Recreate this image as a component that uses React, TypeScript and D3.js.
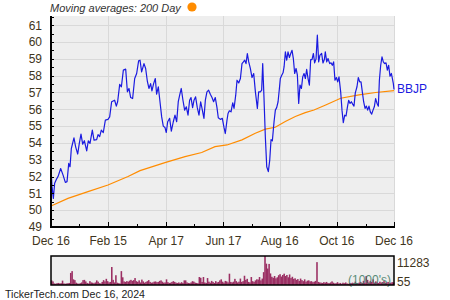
import React from "react";
import * as d3 from "d3";

// ---------- DATA ----------
const startDate = "2023-12-16";
const endDate = "2024-12-16";

const tickDates = ["2023-12-16", "2024-02-15", "2024-04-17", "2024-06-17", "2024-08-16", "2024-10-16", "2024-12-16"];
const tickLabels = ["Dec 16", "Feb 15", "Apr 17", "Jun 17", "Aug 16", "Oct 16", "Dec 16"];
const minorTickDates = ["2024-01-15", "2024-03-17", "2024-05-17", "2024-07-17", "2024-09-16", "2024-11-16"];

const yTicks = [49, 50, 51, 52, 53, 54, 55, 56, 57, 58, 59, 60, 61];

// price: days since start / closing price
const priceDays = [
  0, 1.1, 2.5, 3.9, 5.7, 7.5, 10.3, 12.8, 15.3, 17.1, 18.9, 20.3, 21.7, 24.5, 26.3, 28.5, 30.2, 32.0, 33.8, 35.6,
  38.1, 39.8, 41.6, 44.1, 45.9, 48.7, 50.2, 51.9, 53.7, 55.8, 58.0, 60.8, 62.6, 64.7, 67.9, 69.7, 71.1, 73.3, 75.1, 77.2,
  79.7, 81.5, 83.2, 85.0, 87.1, 89.3, 91.4, 93.5, 95.0, 96.7, 99.2, 101.0, 102.8, 104.5, 106.3, 107.7, 109.5, 111.3, 112.7, 114.5,
  116.3, 118.1, 119.8, 121.6, 123.0, 124.5, 126.6, 128.4, 130.5, 132.3, 134.1, 135.8, 137.3, 139.0, 140.8, 142.6, 144.4, 146.2, 147.9, 149.4,
  151.1, 152.6, 154.3, 156.1, 157.9, 159.7, 161.5, 163.2, 164.7, 166.4, 168.2, 170.0, 171.8, 173.5, 175.3, 177.1, 178.5, 180.7, 182.8, 184.6,
  186.0, 187.8, 188.9, 190.3, 192.1, 193.9, 195.3, 197.1, 198.5, 200.3, 202.1, 203.8, 205.3, 206.7, 208.1, 209.5, 211.0, 212.7, 214.5, 216.3,
  218.1, 220.2, 221.6, 223.4, 224.8, 225.9, 227.3, 228.7, 230.2, 231.9, 233.4, 234.8, 236.2, 238.0, 239.4, 240.8, 242.3, 243.7, 244.7, 246.2,
  247.6, 248.7, 250.1, 251.5, 252.9, 254.4, 255.8, 257.2, 258.6, 260.0, 261.5, 262.9, 264.3, 265.7, 267.2, 268.6, 270.0, 271.4, 272.8, 274.3,
  275.7, 277.1, 278.5, 280.0, 281.3, 282.8, 284.2, 285.6, 287.0, 288.8, 290.2, 291.7, 292.7, 294.2, 295.6, 297.4, 298.8, 300.2, 301.6, 303.0,
  304.5, 305.9, 307.3, 309.1, 310.5, 311.9, 313.4, 314.8, 316.2, 317.6, 319.1, 320.5, 321.9, 323.3, 324.7, 326.5, 327.9, 329.4, 330.8, 332.2,
  333.6, 335.1, 336.5, 337.9, 339.3, 340.7, 342.2, 343.6, 345.0, 346.4, 347.9, 349.3, 350.4, 351.8, 353.2, 354.6, 356.0, 357.5, 358.9, 360.3,
  361.7, 363.2, 364.6, 365.3, 366.0,
];
const priceValues = [
  52.49, 51.4, 50.7, 51.6, 51.83, 52.0, 52.48, 52.1, 51.65, 51.7, 52.78, 52.58, 53.67, 54.3, 53.77, 53.34, 53.97, 54.52, 53.93, 54.13,
  53.53, 54.13, 53.97, 54.76, 54.17, 54.2, 54.49, 54.37, 54.76, 54.62, 55.36, 55.4, 55.55, 56.45, 56.54, 56.19, 56.45, 57.48, 57.34, 58.33,
  58.39, 57.04, 57.24, 56.7, 56.64, 57.83, 58.13, 58.88, 58.92, 58.23, 58.72, 58.43, 57.67, 57.24, 57.53, 57.1, 57.53, 57.83, 56.9, 57.34,
  56.45, 55.55, 55.0, 54.92, 54.62, 55.26, 55.46, 54.7, 55.26, 55.65, 55.26, 56.45, 56.84, 57.24, 56.54, 55.95, 56.15, 55.65, 56.54, 56.7,
  56.1, 56.54, 56.74, 56.1, 55.65, 56.45, 55.95, 55.46, 56.54, 57.04, 57.14, 56.9, 56.7, 56.45, 56.7, 56.1, 55.5, 55.4, 55.46, 54.92,
  54.56, 55.36, 55.75, 55.91, 55.85, 56.39, 56.05, 56.84, 57.73, 57.57, 57.83, 58.72, 58.82, 58.92, 58.72, 59.32, 58.82, 58.43, 57.89, 58.13,
  57.04, 56.05, 57.04, 57.04, 57.14, 58.72, 56.64, 54.37, 52.58, 52.29, 52.98, 54.2, 54.13, 55.26, 55.95, 56.1, 56.45, 57.24, 57.83, 58.03,
  58.17, 58.52, 59.42, 58.92, 59.42, 59.08, 59.32, 59.51, 59.02, 58.13, 58.43, 58.03, 56.35, 57.44, 57.24, 57.93, 58.13, 57.83, 58.37, 57.83,
  57.44, 58.96, 58.96, 59.32, 58.76, 59.0, 60.41, 58.82, 59.22, 59.32, 58.76, 58.96, 59.42, 58.82, 59.02, 58.72, 58.76, 58.62, 58.82, 57.73,
  57.89, 57.63, 57.93, 57.04, 55.95, 55.2, 55.65, 55.6, 56.1, 56.54, 56.35, 56.45, 56.31, 56.19, 56.98, 57.34, 57.89, 57.63, 57.63, 57.04,
  56.45, 56.05, 56.19, 55.95, 56.19, 55.85, 55.71, 55.95, 56.15, 56.64, 56.35, 56.19, 57.73, 58.62, 59.12, 58.82, 58.72, 58.76, 58.33, 58.62,
  57.97, 58.13, 57.73, 57.53, 57.18,
];

// 200-day moving average
const maDays = [0, 18.1, 39.5, 60.8, 82.2, 95, 121.6, 143, 160.8, 175, 187.8, 203.8, 218, 228.7, 239.3, 250, 260.7, 271.3, 280.6, 293.1, 309.1, 328.6, 346.5, 366];
const maValues = [50.25, 50.7, 51.1, 51.5, 52.0, 52.35, 52.83, 53.19, 53.43, 53.78, 53.88, 54.18, 54.58, 54.82, 54.93, 55.27, 55.57, 55.8, 55.96, 56.26, 56.66, 56.86, 57.0, 57.11];

// daily volume (thousands)
const volumes = [
  1800, 1400, 600, 500, 700, 800, 600, 700, 1700, 600,
  500, 600, 700, 800, 4700, 5400, 2200, 1900, 900, 600,
  500, 700, 1000, 1900, 2000, 1400, 800, 600, 1500, 1000,
  900, 700, 1000, 1800, 1300, 700, 600, 1200, 1900, 1400,
  2400, 1500, 1000, 1200, 7000, 2000, 1000, 3800, 900, 700,
  600, 5400, 3000, 1400, 1200, 1500, 1300, 1700, 2000, 1600,
  1900, 2700, 1500, 1200, 1800, 1000, 2100, 1400, 900, 1200,
  1500, 1900, 1200, 900, 1000, 1300, 1400, 1100, 1200, 1600,
  1800, 1300, 900, 1000, 2200, 1100, 800, 900, 1200, 1500,
  1200, 900, 800, 1000, 700, 1100, 800, 1800, 1800, 1000,
  800, 700, 1000, 1500, 1300, 900, 800, 700, 3100, 2800,
  1200, 3100, 1000, 800, 2700, 1300, 900, 1600, 1200, 800,
  1500, 1000, 1200, 1800, 2200, 1300, 900, 1600, 1400, 1000,
  4400, 1200, 1000, 1300, 2400, 1500, 1000, 1300, 2500, 1200,
  1500, 3600, 2000, 2400, 1200, 1000, 3100, 1500, 1200, 1800,
  2200, 2100, 3100, 1800, 2500, 5000, 11283, 8300, 6400, 8200,
  4500, 3200, 2800, 3500, 2600, 3000, 3800, 4200, 3300, 3900,
  4400, 3500, 3900, 3000, 4100, 2700, 3200, 2400, 2600, 2000,
  2300, 1600, 2500, 1900, 1500, 2200, 1300, 1700, 1800, 1400,
  1500, 1100, 1300, 1600, 8900, 1200, 1000, 900, 800, 1100,
  900, 1200, 800, 700, 1000, 1400, 900, 600, 700, 1100,
  600, 800, 500, 900, 700, 1000, 600, 500, 800, 700,
  900, 600, 1300, 800, 700, 1000, 1100, 800, 1600, 900,
  3500, 2000, 1000, 1600, 1200, 2200, 900, 1400, 1000, 800,
  1300, 900, 1100, 1500, 800, 1000, 1200, 700, 900, 1100,
  1000,
];
const volMaxLabel = "11283";
const volMinLabel = "55";

const ticker = "BBJP";
const titleText = "Moving averages: 200 Day";
const footerText = "TickerTech.com  Dec 16, 2024";

// ---------- LAYOUT ----------
const W = 450, H = 300;
const L = 51, R = 394, T = 16, B = 227;
const VT = 256, VB = 285;
const FONT = "'Liberation Sans', Arial, Helvetica, sans-serif";
const LABEL = "#3f3520";

export default function App() {
  const parse = d3.timeParse("%Y-%m-%d");
  const s = parse(startDate) as Date;
  const e = parse(endDate) as Date;
  const x = d3.scaleTime().domain([s, e]).range([L, R]);
  const y = d3.scaleLinear().domain([49, 61.55]).range([B, T]);
  const dayToDate = (d: number) => new Date(s.getTime() + d * 864e5);

  const line = d3.line<[number, number]>()
    .x((p) => x(dayToDate(p[0])))
    .y((p) => y(p[1]));
  const priceData = priceDays.map((d, i) => [d, priceValues[i]] as [number, number]);
  const maData = maDays.map((d, i) => [d, maValues[i]] as [number, number]);

  const xv = d3.scaleLinear().domain([0, volumes.length - 1]).range([L + 0.5, R - 0.5]);
  const yv = d3.scaleLinear().domain([0, 11283]).range([VB, VT]);
  const bw = (R - L) / volumes.length;

  return (
    <svg width={W} height={H} style={{ position: "absolute", left: 0, top: 0, background: "#fff" }} fontFamily={FONT}>
      {/* title */}
      <text x={50} y={12} fontSize={11} fontStyle="italic" fill="#333">{titleText}</text>
      <circle cx={192} cy={7} r={4.6} fill="#ff8c00" />

      {/* plot background */}
      <rect x={L} y={T} width={R - L} height={B - T} fill="#eeeeee" />
      {yTicks.map((t) => (
        <line key={"g" + t} x1={L} x2={R} y1={Math.round(y(t)) + 0.5} y2={Math.round(y(t)) + 0.5} stroke="#d9d9d9" strokeWidth={1} />
      ))}
      {tickDates.map((t) => {
        const xx = Math.round(x(parse(t) as Date)) + 0.5;
        return <line key={"vg" + t} x1={xx} x2={xx} y1={T} y2={B} stroke="#d9d9d9" strokeWidth={1} />;
      })}

      {/* series */}
      <path d={line(maData) || ""} fill="none" stroke="#ff8c00" strokeWidth={1.2} />
      <path d={line(priceData) || ""} fill="none" stroke="#1a1ae0" strokeWidth={1.2} strokeLinejoin="round" />

      {/* axes */}
      <line x1={L} x2={L} y1={T} y2={B + 1} stroke="#000" strokeWidth={2} />
      <line x1={L - 1} x2={R + 1} y1={B} y2={B} stroke="#000" strokeWidth={2} />
      {d3.range(49, 61.6, 0.5).map((t) => (
        <line key={"yt" + t} x1={L} x2={L + 3} y1={Math.round(y(t)) + 0.5} y2={Math.round(y(t)) + 0.5} stroke="#000" strokeWidth={1} />
      ))}
      {yTicks.map((t) => (
        <text key={"yl" + t} x={42} y={y(t) + 4.3} fontSize={12} textAnchor="end" fill={LABEL}>{t}</text>
      ))}
      {tickDates.map((t) => {
        const xx = Math.round(x(parse(t) as Date)) + 0.5;
        return <line key={"xt" + t} x1={xx} x2={xx} y1={B} y2={B - 5} stroke="#000" strokeWidth={1} />;
      })}
      {minorTickDates.map((t) => {
        const xx = Math.round(x(parse(t) as Date)) + 0.5;
        return <line key={"mt" + t} x1={xx} x2={xx} y1={B} y2={B - 3} stroke="#000" strokeWidth={1} />;
      })}
      {tickDates.map((t, i) => (
        <text key={"xl" + t} x={x(parse(t) as Date)} y={245} fontSize={12} textAnchor="middle" fill={LABEL}>{tickLabels[i]}</text>
      ))}
      <text x={397} y={92.5} fontSize={12} fill="#1a1ae0">{ticker}</text>

      {/* volume panel */}
      <rect x={L} y={VT} width={R - L} height={VB - VT} fill="#eeeeee" />
      {volumes.map((v, i) => (
        <rect key={"v" + i} x={xv(i) - bw / 2} y={yv(v)} width={bw + 0.2} height={VB - yv(v)} fill="#9b2f63" />
      ))}
      <text x={348} y={284} fontSize={12} fill="#3f7a64" opacity={0.85}>(1000's)</text>
      <rect x={L} y={VT} width={R - L} height={VB - VT} fill="none" stroke="#000" strokeWidth={1.5} />
      <text x={397} y={267} fontSize={12} fill={LABEL}>{volMaxLabel}</text>
      <text x={397} y={286} fontSize={12} fill={LABEL}>{volMinLabel}</text>

      {/* footer */}
      <text x={5} y={298} fontSize={10.5} fill="#222" textLength={140} lengthAdjust="spacingAndGlyphs">{footerText}</text>
    </svg>
  );
}
